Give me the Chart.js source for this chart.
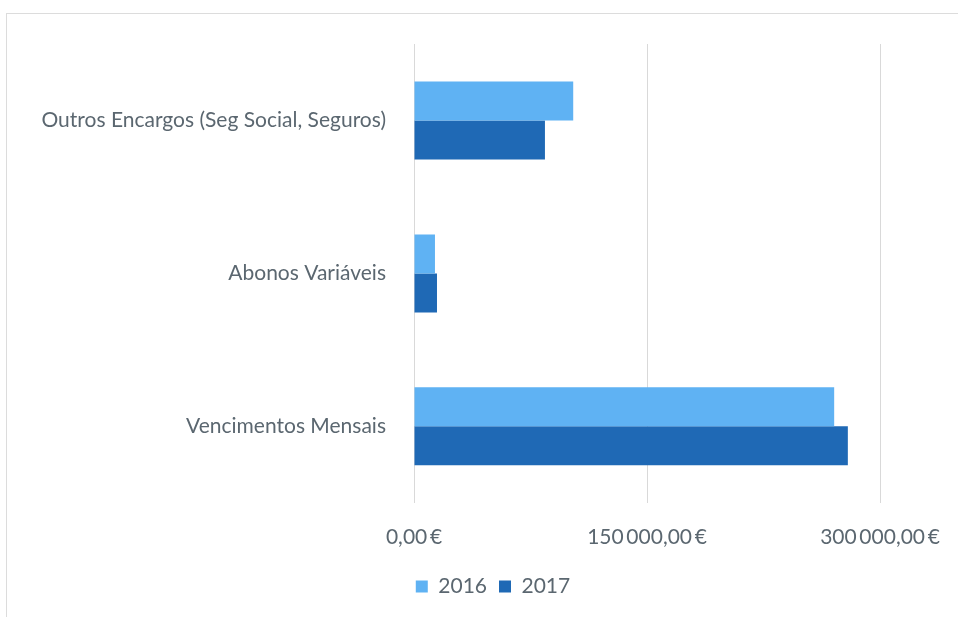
<!DOCTYPE html>
<html>
<head>
<meta charset="utf-8">
<script src="https://cdn.jsdelivr.net/npm/chart.js@4"></script>
<style>
  html, body { margin: 0; padding: 0; background: #fff; }
  #frame { position: absolute; left: 6px; top: 13px; width: 970px; height: 620px; border: 1px solid #dcdcdc; }
  #wrap { position: absolute; left: 0; top: 0; width: 958px; height: 617px; }
</style>
</head>
<body>
<div id="frame"></div>
<div id="wrap"><canvas id="grafico"></canvas></div>
<script>
const categorias = ['Outros Encargos (Seg Social, Seguros)', 'Abonos Variáveis', 'Vencimentos Mensais'];
const valores2016 = [102500, 13500, 270500];
const valores2017 = [84300, 14800, 279300];
const ticksEixo = [0, 150000, 300000];

function formatarEuro(v) {
    const inteiro = Math.round(v).toString().replace(/\B(?=(\d{3})+(?!\d))/g, '\u2009');
    return inteiro + ',00\u2009€';
}

Chart.defaults.font.family = 'Lato, "Open Sans", sans-serif';
Chart.defaults.font.size = 21;
Chart.defaults.color = '#5b6770';

// empurra a legenda um pouco para a direita, como no original
const moverLegenda = {
    id: 'moverLegenda',
    afterLayout(chart) {
        const leg = chart.legend;
        if (leg) { leg.left += 48; leg.right += 48; }
    }
};

const ctx = document.getElementById('grafico').getContext('2d');
new Chart(ctx, {
    type: 'bar',
    data: {
        labels: categorias,
        datasets: [
            { label: '2016', data: valores2016, backgroundColor: '#5fb2f3' },
            { label: '2017', data: valores2017, backgroundColor: '#1f69b5' }
        ]
    },
    options: {
        indexAxis: 'y',
        responsive: true,
        maintainAspectRatio: false,
        animation: false,
        categoryPercentage: 0.51,
        barPercentage: 1,
        layout: { padding: { top: 44, right: 78, left: 10, bottom: 10 } },
        scales: {
            x: {
                min: 0,
                max: 300000,
                afterBuildTicks: scale => { scale.ticks = ticksEixo.map(v => ({ value: v })); },
                afterFit: scale => {
                    scale.paddingRight = 0;
                    scale.paddingLeft = 0;
                    scale.height -= 8;
                },
                ticks: { callback: v => formatarEuro(v), padding: 22, maxRotation: 0 },
                grid: { color: '#d9d9d9', drawTicks: false },
                border: { display: false }
            },
            y: {
                grid: { display: false },
                border: { display: false },
                ticks: { padding: 20 },
                afterFit: scale => { scale.width = 404; }
            }
        },
        plugins: {
            legend: {
                position: 'bottom',
                labels: { boxWidth: 12, boxHeight: 12, padding: 12, font: { size: 21 } }
            },
            tooltip: { enabled: false }
        }
    },
    plugins: [moverLegenda]
});
</script>
</body>
</html>
